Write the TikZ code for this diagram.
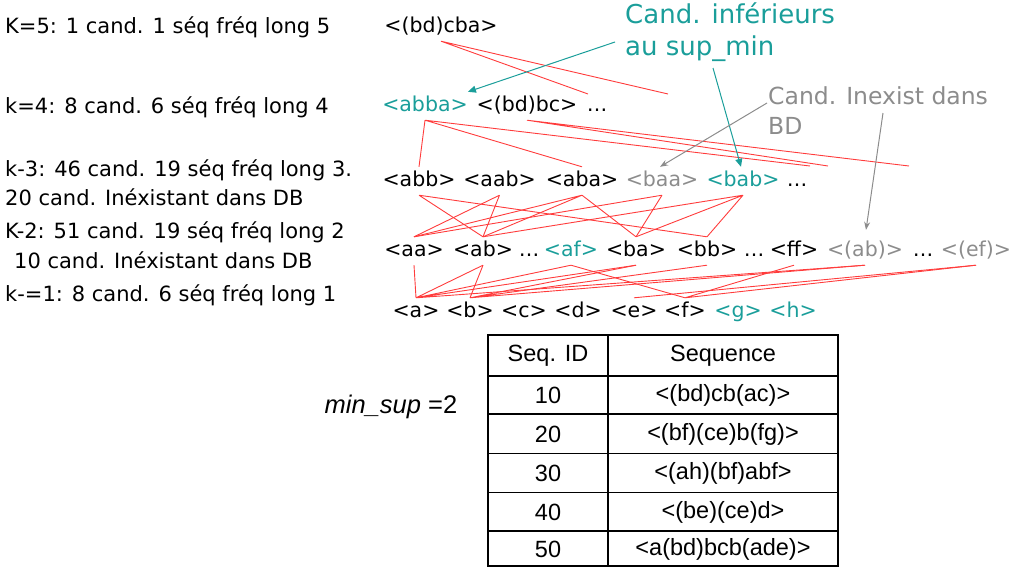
\documentclass[tikz,border=0pt]{standalone}
\usepackage{fontspec}
\setmainfont{DejaVu Sans}
\newfontfamily\arialf{Liberation Sans}
\usetikzlibrary{arrows.meta}
\definecolor{tealc}{RGB}{26,158,154}
\definecolor{grayc}{RGB}{140,140,140}
\definecolor{redc}{RGB}{255,60,60}
\begin{document}
\begin{tikzpicture}[x=1pt,y=-1pt,
  lbl/.style={anchor=west,inner sep=0pt,font=\fontsize{21}{25}\selectfont},
  sq/.style={inner sep=0pt,minimum height=28pt,text height=15pt,text depth=4pt,font=\fontsize{20.5}{24}\selectfont},
  tsq/.style={sq,text=tealc},
  gsq/.style={sq,text=grayc},
  link/.style={draw=redc,line width=0.9pt},
  tarrow/.style={draw=tealc,line width=1pt,-{Triangle[length=8pt,width=7pt]}},
  garrow/.style={draw=grayc,line width=1pt,-{Stealth[length=8pt,width=6pt]}},
  cell/.style={inner sep=0pt,font=\arialf\fontsize{23.5}{27}\selectfont},
  rule/.style={line width=1.5pt},
  frame/.style={line width=2.5pt}
]
\useasboundingbox (0,0) rectangle (1018,568);

% left labels
\node[lbl] (t5) at (5,27) {K=5: 1 cand. 1 séq fréq long 5};
\node[lbl] (t4) at (5,107) {k=4: 8 cand. 6 séq fréq long 4};
\node[lbl] (t3a) at (5,170) {k-3: 46 cand. 19 séq fréq long 3.};
\node[lbl] (t3b) at (5,197) {20 cand. Inéxistant dans DB};
\node[lbl] (t2a) at (5,232) {K-2: 51 cand. 19 séq fréq long 2};
\node[lbl] (t2b) at (14,260) {10 cand. Inéxistant dans DB};
\node[lbl] (t1) at (5,295) {k-=1: 8 cand. 6 séq fréq long 1};

% level 5
\node[sq] (bdcba) at (441,27) {<(bd)cba>};
% level 4
\node[tsq] (abba) at (425,106) {<abba>};
\node[sq] (bdbc) at (527,106) {<(bd)bc>};
\node[sq] (dd4) at (597,106) {…};
% level 3
\node[sq] (abb) at (419,181) {<abb>};
\node[sq] (aab) at (499.5,181) {<aab>};
\node[sq] (aba) at (582,181) {<aba>};
\node[gsq] (baa) at (662,181) {<baa>};
\node[tsq] (bab) at (743,181) {<bab>};
\node[sq] (dd3) at (797,181) {…};
% level 2
\node[sq] (aa) at (414,251) {<aa>};
\node[sq] (ab) at (483,251) {<ab>};
\node[sq] (dd2a) at (529,251) {…};
\node[tsq] (af) at (571,251) {<af>};
\node[sq] (ba) at (636,251) {<ba>};
\node[sq] (bb) at (707,251) {<bb>};
\node[sq] (dd2b) at (754,251) {…};
\node[sq] (ff) at (794,251) {<ff>};
\node[gsq] (pab) at (865,251) {<(ab)>};
\node[sq] (dd2c) at (923,251) {…};
\node[gsq] (pef) at (976,251) {<(ef)>};
% level 1
\node[sq] (a) at (416,312) {<a>};
\node[sq] (b) at (470,312) {<b>};
\node[sq] (c) at (524,312) {<c>};
\node[sq] (d) at (578,312) {<d>};
\node[sq] (e) at (634,312) {<e>};
\node[sq] (f) at (685,312) {<f>};
\node[tsq] (g) at (738,312) {<g>};
\node[tsq] (h) at (793,312) {<h>};

% dangling ends
\coordinate (x5a) at (588,94);
\coordinate (x5b) at (668,94);
\coordinate (x4a) at (810,166);
\coordinate (x4b) at (828,166);
\coordinate (x4c) at (909,166);

% red links
\draw[link] (bdcba.south) -- (x5a) (bdcba.south) -- (x5b);
\draw[link] (abba.south) -- (abb.north) (abba.south) -- (aba.north) (abba.south) -- (x4a);
\draw[link] (bdbc.south) -- (x4b) (bdbc.south) -- (x4c);
\draw[link] (abb.south) -- (ab.north) (abb.south) -- (bb.north);
\draw[link] (aab.south) -- (aa.north) (aab.south) -- (ab.north);
\draw[link] (aba.south) -- (aa.north) (aba.south) -- (ab.north) (aba.south) -- (ba.north);
\draw[link] (baa.south) -- (aa.north) (baa.south) -- (ba.north);
\draw[link] (bab.south) -- (ab.north) (bab.south) -- (ba.north) (bab.south) -- (bb.north);
\draw[link] (a.north) -- (aa.south) (a.north) -- (ab.south) (a.north) -- (af.south)
  (a.north) -- (ba.south) (a.north) -- (pab.south);
\draw[link] (b.north) -- (ab.south) (b.north) -- (ba.south) (b.north) -- (bb.south) (b.north) -- (pab.south);
\draw[link] (f.north) -- (af.south) (f.north) -- (ff.south) (f.north) -- (pef.south);
\draw[link] (e.north) -- (pef.south);

% annotations
\node[anchor=north west,inner sep=0pt,align=left,text=tealc,font=\fontsize{26}{32}\selectfont] (low) at (625,3) {Cand. inférieurs\\au sup\_min};
\node[anchor=north west,inner sep=0pt,align=left,text=grayc,font=\fontsize{23.5}{30}\selectfont] (inex) at (768,86) {Cand. Inexist dans\\BD};
\coordinate (s1) at (615,42);
\coordinate (s2) at (713,68);
\coordinate (s3) at (767,103);
\coordinate (s4) at (883,113);
\draw[tarrow] (s1) -- (abba.north east);
\draw[tarrow] (s2) -- ([xshift=-2pt]bab.north);
\draw[garrow] (s3) -- ([xshift=-2pt]baa.north);
\draw[garrow,shorten >=7pt] (s4) -- (pab.north);

% min_sup
\node[inner sep=0pt,font=\arialf\fontsize{25.5}{28}\selectfont] (minsup) at (391,407) {\textit{min\_sup} =2};

% table
\draw[frame] (488,335) rectangle (838,566);
\draw[rule] (608,335) -- (608,566);
\draw[line width=2pt] (488,375.5) -- (838,375.5);
\draw[rule] (488,414) -- (838,414);
\draw[rule] (488,453.5) -- (838,453.5);
\draw[rule] (488,492.5) -- (838,492.5);
\draw[rule] (488,531) -- (838,531);
\node[cell] (hid) at (548,356) {Seq. ID};
\node[cell] (hseq) at (723,356) {Sequence};
\node[cell] (i10) at (548,395) {10};
\node[cell] (s10) at (723,395) {<(bd)cb(ac)>};
\node[cell] (i20) at (548,434) {20};
\node[cell] (s20) at (723,434) {<(bf)(ce)b(fg)>};
\node[cell] (i30) at (548,473) {30};
\node[cell] (s30) at (723,473) {<(ah)(bf)abf>};
\node[cell] (i40) at (548,512) {40};
\node[cell] (s40) at (723,512) {<(be)(ce)d>};
\node[cell] (i50) at (548,549) {50};
\node[cell] (s50) at (723,549) {<a(bd)bcb(ade)>};
\end{tikzpicture}
\end{document}
